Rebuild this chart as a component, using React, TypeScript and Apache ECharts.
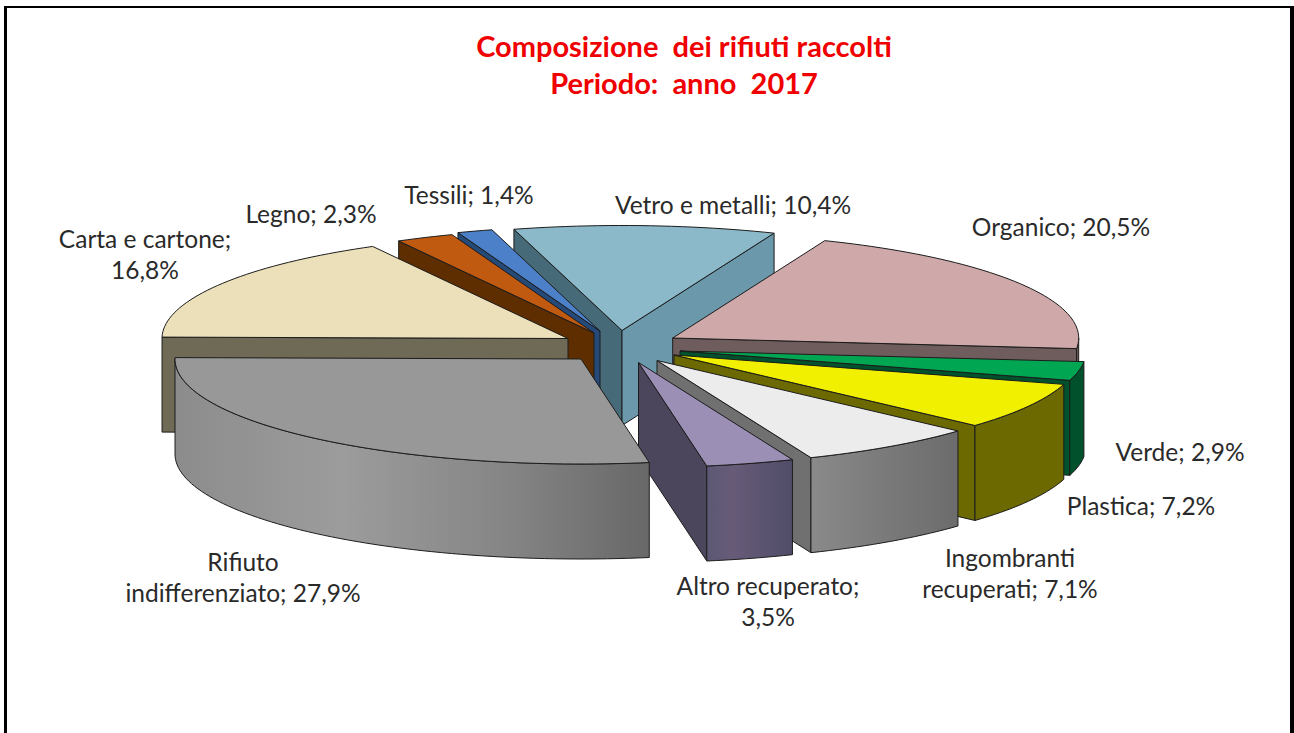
import React, { useEffect, useRef } from "react";
import * as echarts from "echarts";

const titleText = "Composizione  dei rifiuti raccolti\nPeriodo:  anno  2017";
const categories = ["Organico", "Verde", "Plastica", "Ingombranti\nrecuperati", "Altro recuperato", "Rifiuto\nindifferenziato", "Carta e cartone", "Legno", "Tessili", "Vetro e metalli"];
const values = [20.5, 2.9, 7.2, 7.1, 3.5, 27.9, 16.8, 2.3, 1.4, 10.4];
const labelSeparators = [" ", " ", " ", " ", "\n", " ", "\n", " ", " ", " "];

// Layout and style
const FONT = "Lato, 'Noto Sans', sans-serif";
const START_ANGLE = 22;
const RX = 406;
const RY = 105;
const DEPTH = 95;
const CENTER = [625, 346];
const explodeOffsets = [[47.7, -8], [55, 5], [49, 9], [32, 14.5], [13.5, 16.5], [-44, 13], [-57, -7.5], [-31, -13], [-25, -15], [-3, -15.5]];
const topColors = ["#cfa9a9", "#00a651", "#f0f000", "#ececec", "#9b8fb6", "#989898", "#ebe0b9", "#c05a10", "#4c80c8", "#8bb9ca"];
const startFaces = ["#6f5c5c", "#00522c", "#6b6900", "#707070", "#4b465c", "#6a6a6a", "#6e6a55", "#5e2e00", "#264a78", "#476a78"];
const endFaces = ["#6f5c5c", "#00522c", "#6b6900", "#707070", "#4b465c", "#6a6a6a", "#6e6a55", "#5e2e00", "#264a78", "#6b98aa"];
const wallStops: [number, string][][] = [
  [[0, "#6f5c5c"], [1, "#6f5c5c"]],
  [[0, "#00522c"], [1, "#00502c"]],
  [[0, "#6b6900"], [1, "#6b6900"]],
  [[0, "#8a8a8a"], [0.5, "#7a7a7a"], [1, "#6c6c6c"]],
  [[0, "#5c5874"], [0.3, "#675b78"], [1, "#504d68"]],
  [[0, "#8c8c8c"], [0.35, "#9c9c9c"], [0.7, "#858585"], [1, "#686868"]],
  [[0, "#6e6a55"], [1, "#6e6a55"]],
  [[0, "#5e2e00"], [1, "#5e2e00"]],
  [[0, "#264a78"], [1, "#264a78"]],
  [[0, "#6b98aa"], [1, "#6b98aa"]],
];
const drawOrder = [9, 8, 7, 6, 0, 1, 2, 3, 4, 5];
const labelCenters = [[1061, 226.5], [1180, 451.5], [1141, 505.5], [1010, 573], [768, 601], [243, 577], [145, 254], [311, 213.5], [469, 194.5], [733, 204.5]];
const EDGE = "#1c1c1c";

const total = values.reduce((a, b) => a + b, 0);
const seriesData = drawOrder.map((idx) => ({
  value: [values[idx], values.slice(0, idx).reduce((a, b) => a + b, 0), idx],
}));

function renderSlice(_params: any, api: any) {
  const value = api.value(0);
  const before = api.value(1);
  const idx = api.value(2);
  const a0 = START_ANGLE + (before / total) * 360;
  const a1 = a0 + (value / total) * 360;
  const ax = CENTER[0] + explodeOffsets[idx][0];
  const ay = CENTER[1] + explodeOffsets[idx][1];
  const rim = (deg: number) => {
    const r = (deg * Math.PI) / 180;
    return [ax + RX * Math.sin(r), ay - RY * Math.cos(r)];
  };
  const sin = (deg: number) => Math.sin((deg * Math.PI) / 180);
  const arc = (from: number, to: number) => {
    const n = Math.max(2, Math.ceil(Math.abs(to - from) / 1.5));
    const pts: number[][] = [];
    for (let i = 0; i <= n; i++) pts.push(rim(from + ((to - from) * i) / n));
    return pts;
  };
  const edge = { stroke: EDGE, lineWidth: 1, lineJoin: "round" };
  const children: any[] = [];
  const poly = (points: number[][], fill: any) =>
    children.push({ type: "polygon", shape: { points }, style: { fill, ...edge }, silent: true });
  const face = (deg: number, fill: string) => {
    const p = rim(deg);
    poly([[ax, ay], p, [p[0], p[1] + DEPTH], [ax, ay + DEPTH]], fill);
  };
  if (sin(a0) < 0) face(a0, startFaces[idx]);
  if (sin(a1) > 0) face(a1, endFaces[idx]);
  const f0 = Math.max(a0, 90);
  const f1 = Math.min(a1, 270);
  if (f1 > f0) {
    const up = arc(f0, f1);
    const down = up.map((p) => [p[0], p[1] + DEPTH]).reverse();
    const fill = new echarts.graphic.LinearGradient(
      0, 0, 1, 0,
      wallStops[idx].map(([offset, color]) => ({ offset, color }))
    );
    poly([...up, ...down], fill);
  }
  poly([[ax, ay], ...arc(a0, a1)], topColors[idx]);
  return { type: "group", children };
}

const labelTexts = categories.map((name, i) => `${name};${labelSeparators[i]}${values[i].toFixed(1).replace(".", ",")}%`);

export default function App() {
  const ref = useRef<HTMLDivElement>(null);
  useEffect(() => {
    const chart = echarts.init(ref.current!, undefined, { renderer: "svg" });
    chart.setOption({
      animation: false,
      backgroundColor: "#ffffff",
      title: {
        text: titleText,
        left: 679,
        top: 22,
        textAlign: "center",
        textStyle: { color: "#f00000", fontFamily: FONT, fontWeight: "bold", fontSize: 29, lineHeight: 37 },
      },
      series: [
        {
          type: "custom",
          coordinateSystem: "none",
          silent: true,
          renderItem: renderSlice,
          data: seriesData,
        },
      ],
      graphic: [
        { type: "rect", shape: { x: 4, y: 6, width: 1288, height: 2 }, style: { fill: "#000" }, silent: true },
        { type: "rect", shape: { x: 4, y: 6, width: 3, height: 727 }, style: { fill: "#000" }, silent: true },
        { type: "rect", shape: { x: 1290, y: 6, width: 4, height: 727 }, style: { fill: "#000" }, silent: true },
        ...labelTexts.map((text, i) => ({
          type: "text",
          x: labelCenters[i][0],
          y: labelCenters[i][1],
          silent: true,
          style: {
            text,
            fill: "#2a2a2a",
            font: `24.5px ${FONT}`,
            lineHeight: 31,
            align: "center",
            verticalAlign: "middle",
          },
        })),
      ],
    });
    return () => chart.dispose();
  }, []);
  return <div ref={ref} style={{ position: "fixed", left: 0, top: 0, width: 1294, height: 733 }} />;
}
